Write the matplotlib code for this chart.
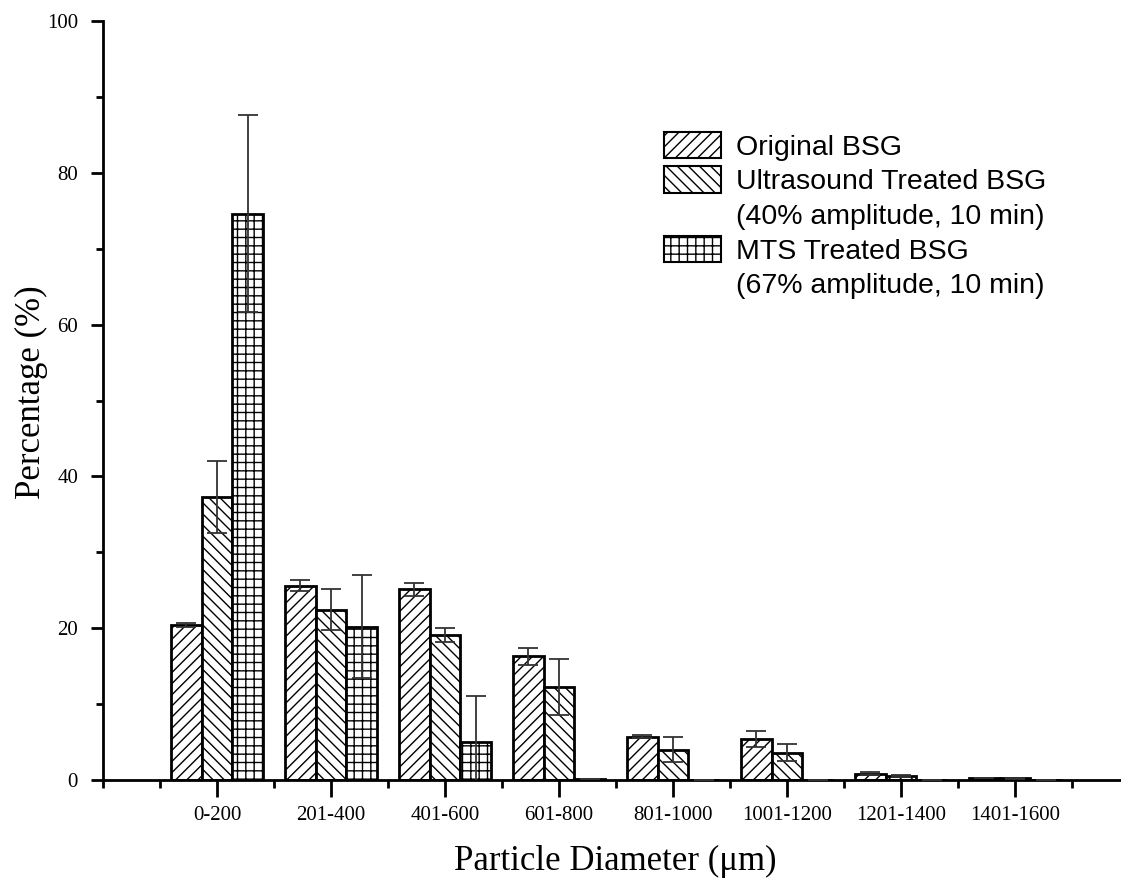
import matplotlib
matplotlib.use("Agg")
import matplotlib.pyplot as plt
import numpy as np
from matplotlib.patches import Patch
from matplotlib.ticker import FixedLocator, MultipleLocator

categories = ['0-200', '201-400', '401-600', '601-800', '801-1000',
              '1001-1200', '1201-1400', '1401-1600']

original = [20.4, 25.6, 25.1, 16.3, 5.7, 5.4, 0.8, 0.25]
original_err = [0.3, 0.7, 0.9, 1.1, 0.2, 1.0, 0.2, 0.05]

ultrasound = [37.3, 22.4, 19.1, 12.3, 4.0, 3.6, 0.5, 0.2]
ultrasound_err = [4.7, 2.7, 0.9, 3.7, 1.6, 1.1, 0.1, 0.05]

mts = [74.6, 20.2, 5.0, 0.15, 0.0, 0.0, 0.0, 0.0]
mts_err = [13.0, 6.8, 6.1, 0.0, 0.0, 0.0, 0.0, 0.0]

labels = ['Original BSG', 'Ultrasound Treated BSG', 'MTS Treated BSG']
sublabels = [None, '(40% amplitude, 10 min)', '(67% amplitude, 10 min)']

plt.rcParams['hatch.linewidth'] = 1.0

fig = plt.figure(figsize=(11.21, 8.86), dpi=100)
ax = fig.add_axes([103 / 1121, 106 / 886, 1017 / 1121, 759 / 886])

x = np.arange(1, len(categories) + 1)
width = 0.27
series = [(original, original_err, '///'),
          (ultrasound, ultrasound_err, '\\\\\\'),
          (mts, mts_err, '++')]

handles, texts = [], []
for i, (vals, errs, hatch) in enumerate(series):
    ax.bar(x + (i - 1) * width, vals, width, facecolor='white', edgecolor='black',
           linewidth=2, hatch=hatch, zorder=2)
    ax.errorbar(x + (i - 1) * width, vals, yerr=errs, fmt='none', ecolor='#333333',
                elinewidth=1.3, capsize=7, capthick=1.3, zorder=3)
    handles.append(Patch(facecolor='white', edgecolor='black', linewidth=1.5, hatch=hatch))
    texts.append(labels[i])
    if sublabels[i]:
        handles.append(Patch(visible=False))
        texts.append(sublabels[i])

ax.set_xlim(0, 8.92)
ax.set_ylim(0, 100)

for side in ['top', 'right']:
    ax.spines[side].set_visible(False)
for side in ['left', 'bottom']:
    ax.spines[side].set_linewidth(2)

ax.set_xticks(x)
ax.set_xticklabels(categories, fontfamily='Liberation Serif', fontsize=15)
ax.xaxis.set_minor_locator(FixedLocator(list(np.arange(0.5, 9, 1.0)) + [0]))
ax.set_yticks(np.arange(0, 101, 20))
ax.yaxis.set_minor_locator(MultipleLocator(10))
for lbl in ax.get_yticklabels():
    lbl.set_fontfamily('Liberation Serif')
    lbl.set_fontsize(15)

ax.tick_params(axis='x', which='major', direction='out', length=12, width=2, pad=7)
ax.tick_params(axis='x', which='minor', direction='out', length=6, width=2)
ax.tick_params(axis='y', which='major', direction='out', length=9, width=2, pad=9)
ax.tick_params(axis='y', which='minor', direction='out', length=5, width=2)

ax.set_ylabel('Percentage (%)', fontfamily='Liberation Serif', fontsize=25, va='center')
ax.yaxis.set_label_coords(-0.070, 0.511)
ax.set_xlabel('Particle Diameter (\u03bcm)', fontfamily='Liberation Serif', fontsize=25, va='center')
ax.xaxis.set_label_coords(0.504, -0.108)

leg = ax.legend(handles, texts, loc='upper left', bbox_to_anchor=(0.552, 0.854), frameon=False,
                prop={'family': 'Liberation Sans', 'size': 20.5},
                handlelength=2.0, handleheight=1.05, handletextpad=0.5,
                labelspacing=0.2, borderaxespad=0, borderpad=0)

fig.savefig('out.png', dpi=100)
plt.close('all')
